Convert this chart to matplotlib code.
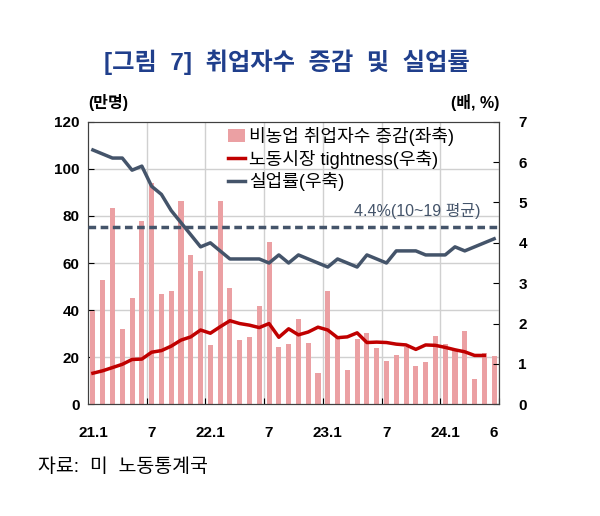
import numpy as np
import matplotlib
matplotlib.use('Agg')
import matplotlib.pyplot as plt

plt.rcParams['font.family'] = ['Liberation Sans', 'Noto Sans CJK KR', 'DejaVu Sans']

# 2021.1 ~ 2024.6, monthly
payrolls = [39.6, 52.6, 83.2, 32.0, 45.0, 77.8, 94.1, 46.7, 48.1, 86.2, 63.3, 56.6,
            25.2, 86.5, 49.5, 27.3, 28.4, 41.9, 69.0, 24.2, 25.5, 36.2, 25.9, 13.4,
            48.2, 28.0, 14.6, 27.9, 30.1, 23.8, 18.4, 20.9, 24.5, 16.3, 18.1, 29.0,
            25.5, 23.1, 31.0, 10.7, 21.6, 20.5]
unemp = [6.3, 6.2, 6.1, 6.1, 5.8, 5.9, 5.4, 5.2, 4.8, 4.5, 4.2, 3.9,
         4.0, 3.8, 3.6, 3.6, 3.6, 3.6, 3.5, 3.7, 3.5, 3.7, 3.6, 3.5,
         3.4, 3.6, 3.5, 3.4, 3.7, 3.6, 3.5, 3.8, 3.8, 3.8, 3.7, 3.7,
         3.7, 3.9, 3.8, 3.9, 4.0, 4.1]
tightness = [0.77, 0.83, 0.91, 0.99, 1.11, 1.12, 1.29, 1.33, 1.44, 1.59, 1.67, 1.84,
             1.76, 1.92, 2.07, 2.00, 1.96, 1.90, 2.00, 1.66, 1.87, 1.72, 1.79, 1.91,
             1.84, 1.65, 1.67, 1.77, 1.53, 1.54, 1.53, 1.49, 1.47, 1.36, 1.47, 1.46,
             1.41, 1.35, 1.30, 1.21, 1.21]
avg_10_19 = 4.4
xlabels = ['21.1', '7', '22.1', '7', '23.1', '7', '24.1', '6']
xlabel_pos = [0, 6, 12, 18, 24, 30, 36, 41]

BAR_C = '#EBA0A3'
RED_C = '#C00000'
NAVY_C = '#44546A'

fig = plt.figure(figsize=(6, 5.16), dpi=100)
ax = fig.add_axes([0.1467, 0.2165, 0.6850, 0.5476])
ax2 = ax.twinx()

x = np.arange(len(payrolls))
bars = ax.bar(x, payrolls, 0.52, color=BAR_C, zorder=2)
ax.set_xlim(-0.5, len(payrolls) - 0.5)
ax.set_ylim(0, 120)
ax.set_yticks(np.arange(0, 121, 20))

# grid: horizontal at tick values, vertical at half-year boundaries
for v in range(20, 120, 20):
    ax.axhline(v, color='#D0D0D0', lw=1, zorder=1)
for b in np.arange(5.5, len(payrolls), 6):
    ax.axvline(b, color='#D0D0D0', lw=1, zorder=1)

l_red, = ax2.plot(np.arange(len(tightness)), tightness, color=RED_C, lw=2.5, zorder=3)
l_un, = ax2.plot(x, unemp, color=NAVY_C, lw=2.5, zorder=3)
ax2.axhline(avg_10_19, color=NAVY_C, lw=2.5, ls=(0, (2.2, 1.3)), zorder=3)
ax2.set_ylim(0, 7)
ax2.set_yticks(np.arange(0, 8, 1))
ax2.text(39.6, 4.8, '4.4%(10~19 평균)', color=NAVY_C, fontsize=11.5,
         ha='right', va='center')

ax.set_xticks(np.arange(5.5, len(payrolls), 6))
ax.set_xticklabels([])
ax.tick_params(axis='x', direction='in', length=4)
for p, t in zip(xlabel_pos, xlabels):
    ax.text(p, -12, t, ha='center', va='center', fontsize=11, fontweight='bold')

ax.tick_params(axis='y', direction='in', length=4, labelsize=11, pad=6)
ax2.tick_params(axis='y', direction='in', length=4, labelsize=11, pad=14)
for lab in ax.get_yticklabels() + ax2.get_yticklabels():
    lab.set_fontweight('bold')
for sp in list(ax.spines.values()) + list(ax2.spines.values()):
    sp.set_color('#404040')

ax.set_zorder(ax2.get_zorder() - 1)
ax2.patch.set_visible(False)
ax.patch.set_visible(True)

leg = ax2.legend([bars, l_red, l_un],
                 ['비농업 취업자수 증감(좌축)', '노동시장 tightness(우축)', '실업률(우축)'],
                 loc='upper left', bbox_to_anchor=(0.315, 1.02), frameon=False,
                 fontsize=13, handlelength=0.9, handletextpad=0.25,
                 labelspacing=0.2, borderpad=0.1)

fig.text(0.478, 0.88, '[그림  7]  취업자수  증감  및  실업률', ha='center', va='center',
         fontsize=17.5, fontweight='bold', color='#203F8C')
fig.text(0.147, 0.802, '(만명)', ha='left', va='center', fontsize=11.5, fontweight='bold')
fig.text(0.833, 0.802, '(배, %)', ha='right', va='center', fontsize=11.5, fontweight='bold')
fig.text(0.063, 0.095, '자료:  미  노동통계국', ha='left', va='center', fontsize=14)

fig.savefig('out.png', dpi=100)
plt.close(fig)
